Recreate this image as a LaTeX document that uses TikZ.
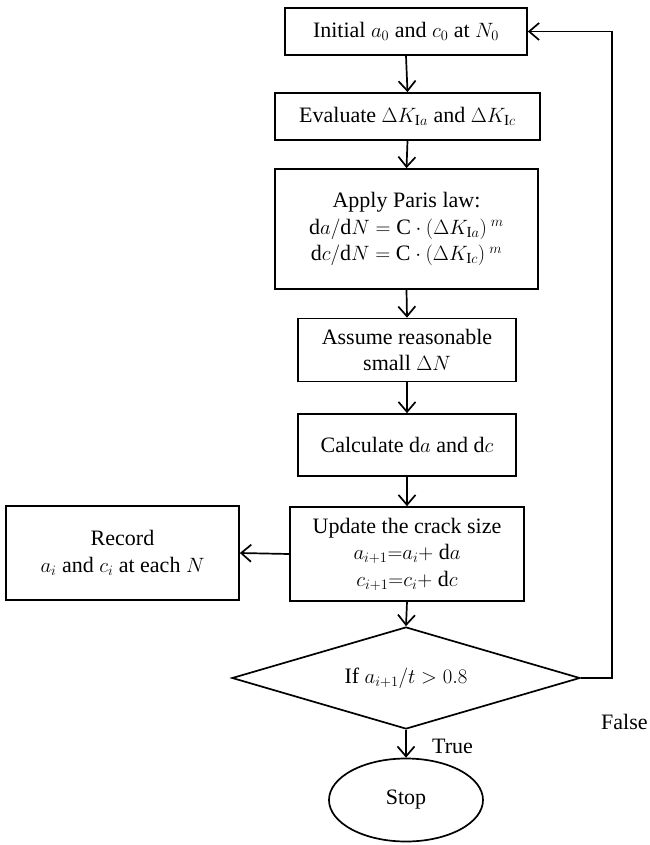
\documentclass[tikz,border=0pt]{standalone}
\usepackage{fontspec}
\setmainfont{Liberation Serif}
\usepackage{amsmath}
\usepackage{tikz}
\usetikzlibrary{arrows.meta,positioning,shapes.geometric}
\tikzset{
  >={Straight Barb[length=3.5mm,width=6mm]},
  flow/.style={->, line width=1.7pt, draw=black},
  box/.style={
    draw=black,
    line width=1.7pt,
    fill=white,
    align=center,
    inner sep=2pt,
    font=\fontsize{22}{26.5}\selectfont
  },
  decision/.style={box, diamond, aspect=3.4, inner sep=0pt},
  terminal/.style={box, ellipse, inner sep=0pt},
  tag/.style={font=\fontsize{22}{26}\selectfont, inner sep=0pt}
}

\begin{document}
\begin{tikzpicture}[x=1pt,y=-1pt]
      \useasboundingbox (0,0) rectangle (649,845);
      \node[box,minimum width=242pt,minimum height=47pt] (init) at (406,31.5) {Initial $a_0$ and $c_0$ at $N_0$};
      \node[box,minimum width=265pt,minimum height=47pt] (eval) at (407.5,116.5) {Evaluate $\Delta K_{\mathrm{I}a}$ and $\Delta K_{\mathrm{I}c}$};
      \node[box,minimum width=263pt,minimum height=120pt] (paris) at (406.5,229) {Apply Paris law:\\
        $\mathrm{d}a/\mathrm{d}N=\mathrm{C}\cdot(\Delta K_{\mathrm{I}a})^{\;m}$\\
        $\mathrm{d}c/\mathrm{d}N=\mathrm{C}\cdot(\Delta K_{\mathrm{I}c})^{\;m}$};
      \node[box,minimum width=218pt,minimum height=63pt] (assume) at (407,350) {Assume reasonable\\small $\Delta N$};
      \node[box,minimum width=218pt,minimum height=62pt] (calc) at (407,445) {Calculate $\mathrm{d}a$ and $\mathrm{d}c$};
      \node[box,minimum width=234pt,minimum height=94pt] (update) at (407,554) {Update the crack size\\
        $a_{i+1}{=}a_i{+}\ \mathrm{d}a$\\
        $c_{i+1}{=}c_i{+}\ \mathrm{d}c$};
      \node[box,minimum width=233pt,minimum height=94pt] (record) at (122.5,553) {Record\\$a_i$ and $c_i$ at each $N$};
      \node[decision,minimum width=348pt,minimum height=102pt] (check) at (406,678) {If $a_{i+1}/t>0.8$};
      \node[terminal,minimum width=154pt,minimum height=83pt] (stop) at (406,800) {Stop};
      \coordinate (back) at (612,31.5);
      % main chain
      \foreach \a/\b in {init/eval,eval/paris,paris/assume,assume/calc,calc/update,update/check,check/stop}{
        \draw[flow] (\a.south) -- (\b.north);
      }
      \draw[flow] (update.west) -- (record.east);
      \draw[flow] (check.east) -| (back) -- (init.east);
      \node[tag,anchor=west] (true) at (432,746) {True};
      \node[tag,anchor=west] (false) at (601,722) {False};
    \end{tikzpicture}
\end{document}
